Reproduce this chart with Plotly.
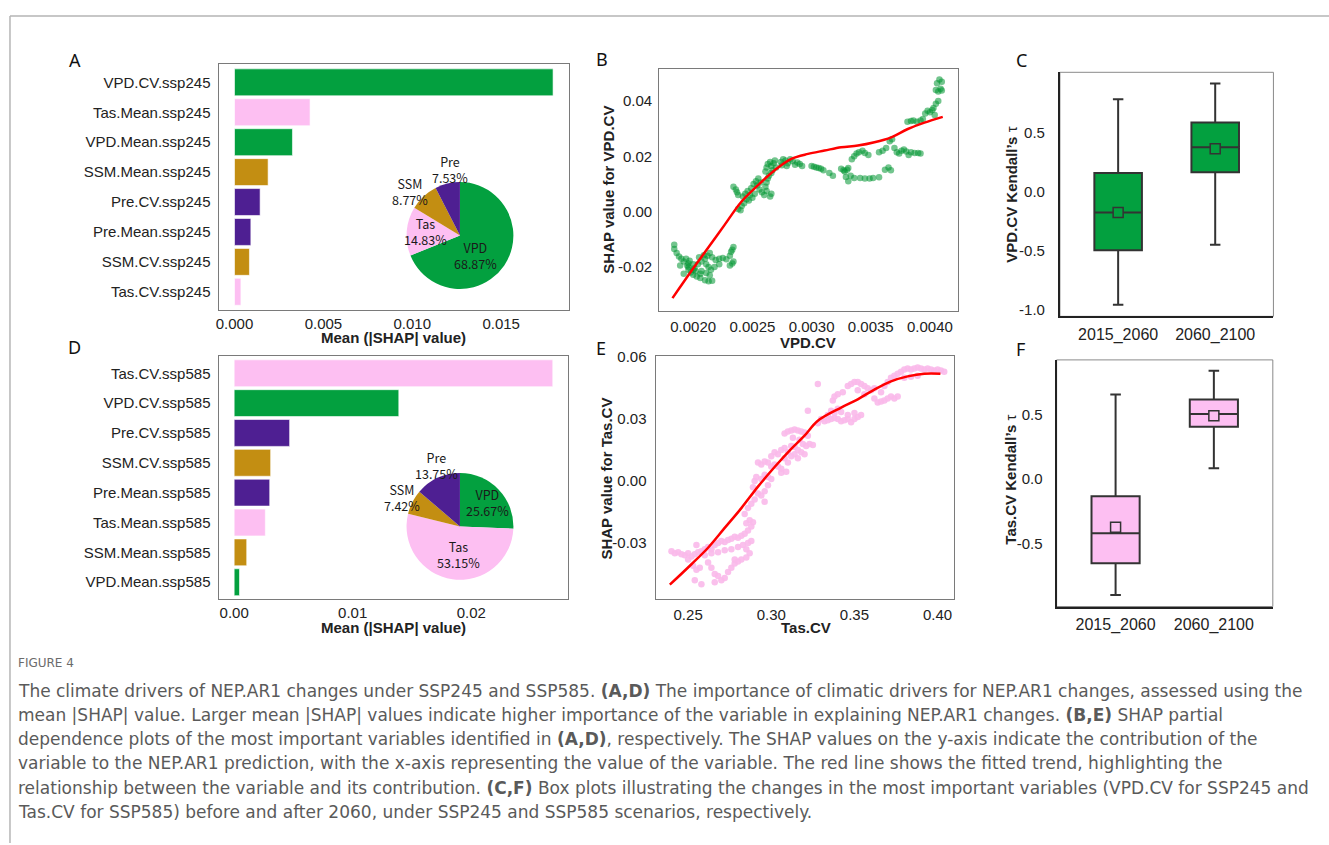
import plotly.graph_objects as go

W, H = 1329, 845
def fx(p): return p / W
def fy(p): return 1 - p / H

# ---------------- DATA ----------------
# Panel A: mean |SHAP| (SSP245)
a_features = ["VPD.CV.ssp245", "Tas.Mean.ssp245", "VPD.Mean.ssp245", "SSM.Mean.ssp245",
              "Pre.CV.ssp245", "Pre.Mean.ssp245", "SSM.CV.ssp245", "Tas.CV.ssp245"]
a_values = [0.01792, 0.00425, 0.00326, 0.00189, 0.00144, 0.00092, 0.00084, 0.00036]
a_groups = ["VPD", "Tas", "VPD", "SSM", "Pre", "Pre", "SSM", "Tas"]
a_pie_labels = ["VPD", "Tas", "SSM", "Pre"]
a_pie_pct = [68.87, 14.83, 8.77, 7.53]

# Panel D: mean |SHAP| (SSP585)
d_features = ["Tas.CV.ssp585", "VPD.CV.ssp585", "Pre.CV.ssp585", "SSM.CV.ssp585",
              "Pre.Mean.ssp585", "Tas.Mean.ssp585", "SSM.Mean.ssp585", "VPD.Mean.ssp585"]
d_values = [0.02688, 0.01389, 0.00468, 0.00308, 0.00300, 0.00263, 0.00106, 0.00045]
d_groups = ["Tas", "VPD", "Pre", "SSM", "Pre", "Tas", "SSM", "VPD"]
d_pie_labels = ["VPD", "Tas", "SSM", "Pre"]
d_pie_pct = [25.67, 53.15, 7.42, 13.75]

# Panel B: SHAP dependence for VPD.CV (x = VPD.CV, y = SHAP)
b_points = [
    (0.00184,-0.0120),(0.00184,-0.0135),(0.00186,-0.0150),(0.00188,-0.0162),(0.00190,-0.0170),
    (0.00192,-0.0180),(0.00195,-0.0195),(0.00196,-0.0210),(0.00198,-0.0220),(0.00200,-0.0228),
    (0.00203,-0.0235),(0.00206,-0.0240),(0.00210,-0.0248),(0.00213,-0.0252),(0.00216,-0.0250),
    (0.00201,-0.0205),(0.00204,-0.0190),(0.00207,-0.0180),(0.00210,-0.0170),(0.00212,-0.0160),
    (0.00214,-0.0150),(0.00216,-0.0165),(0.00219,-0.0175),(0.00222,-0.0170),(0.00225,-0.0168),
    (0.00228,-0.0172),(0.00231,-0.0160),(0.00232,-0.0145),(0.00234,-0.0128),(0.00233,-0.0138),
    (0.00231,-0.0195),(0.00233,-0.0188),(0.00234,-0.0180),(0.00222,-0.0190),(0.00213,-0.0200),
    (0.00207,-0.0215),(0.00200,-0.0190),(0.00197,-0.0178),(0.00194,-0.0170),(0.00189,-0.0195),
    (0.00192,-0.0225),(0.00196,-0.0200),(0.00202,-0.0215),(0.00206,-0.0225),(0.00211,-0.0222),
    (0.00214,-0.0230),(0.00215,-0.0210),(0.00218,-0.0200),(0.00211,-0.0190),(0.00209,-0.0158),
    (0.00205,-0.0165),(0.00200,-0.0210),(0.00196,-0.0188),
    (0.00234,0.0090),(0.00236,0.0080),(0.00237,0.0070),(0.00238,0.0060),(0.00238,0.0010),
    (0.00240,0.0005),(0.00241,0.0020),(0.00243,0.0030),(0.00245,0.0045),(0.00242,0.0055),
    (0.00244,0.0065),(0.00246,0.0075),(0.00248,0.0060),(0.00250,0.0050),(0.00247,0.0040),
    (0.00249,0.0085),(0.00251,0.0100),(0.00253,0.0110),(0.00255,0.0120),(0.00254,0.0095),
    (0.00256,0.0080),(0.00258,0.0070),(0.00260,0.0060),(0.00261,0.0090),(0.00262,0.0105),
    (0.00263,0.0120),(0.00262,0.0075),(0.00265,0.0055),(0.00266,0.0065),(0.00257,0.0105),
    (0.00252,0.0065),
    (0.00261,0.0145),(0.00262,0.0160),(0.00263,0.0172),(0.00265,0.0180),(0.00266,0.0165),
    (0.00267,0.0150),(0.00268,0.0175),(0.00269,0.0185),(0.00270,0.0160),(0.00266,0.0140),
    (0.00264,0.0130),
    (0.00274,0.0180),(0.00276,0.0190),(0.00278,0.0185),(0.00280,0.0175),(0.00282,0.0190),
    (0.00284,0.0182),(0.00286,0.0170),(0.00288,0.0178),(0.00290,0.0172),(0.00292,0.0165),
    (0.00279,0.0165),(0.00275,0.0168),
    (0.00300,0.0165),(0.00302,0.0162),(0.00304,0.0160),(0.00306,0.0158),(0.00308,0.0155),
    (0.00310,0.0150),(0.00315,0.0140),(0.00318,0.0130),
    (0.00325,0.0155),(0.00327,0.0150),(0.00328,0.0145),(0.00330,0.0152),(0.00331,0.0158),
    (0.00329,0.0125),(0.00331,0.0110),(0.00333,0.0130),
    (0.00334,0.0190),(0.00336,0.0200),(0.00338,0.0210),(0.00340,0.0215),(0.00343,0.0220),
    (0.00345,0.0212),(0.00348,0.0205),
    (0.00336,0.0122),(0.00341,0.0122),(0.00345,0.0120),(0.00349,0.0120),(0.00352,0.0122),
    (0.00357,0.0124),
    (0.00357,0.0215),(0.00360,0.0220),(0.00363,0.0230),(0.00366,0.0255),(0.00368,0.0262),
    (0.00362,0.0152),(0.00365,0.0160),(0.00367,0.0150),
    (0.00370,0.0230),(0.00372,0.0215),(0.00374,0.0210),(0.00376,0.0220),(0.00378,0.0225),
    (0.00380,0.0218),(0.00382,0.0205),(0.00384,0.0215),(0.00387,0.0212),(0.00390,0.0212),
    (0.00392,0.0210),
    (0.00381,0.0325),(0.00384,0.0328),(0.00386,0.0330),(0.00389,0.0325),(0.00392,0.0330),
    (0.00394,0.0335),
    (0.00396,0.0355),(0.00398,0.0365),(0.00400,0.0360),(0.00402,0.0368),(0.00404,0.0350),
    (0.00403,0.0375),(0.00405,0.0390),
    (0.00405,0.0440),(0.00407,0.0435),(0.00409,0.0445),(0.00410,0.0438),(0.00406,0.0465),
    (0.00408,0.0478),(0.00410,0.0470),(0.00407,0.0400),
]
b_fit_x = [0.001825, 0.001986, 0.002126, 0.002267, 0.002407, 0.002548, 0.002688, 0.002829,
           0.002970, 0.00311, 0.00325, 0.003391, 0.003531, 0.003672, 0.003813, 0.003953, 0.004108]
b_fit_y = [-0.0313, -0.0214, -0.0131, -0.0047, 0.0036, 0.0096, 0.0150, 0.0191,
           0.0209, 0.0221, 0.0233, 0.0239, 0.0251, 0.0269, 0.0299, 0.0322, 0.0343]

# Panel E: SHAP dependence for Tas.CV
e_points = [
    (0.240,-0.0340),(0.242,-0.0350),(0.244,-0.0345),(0.246,-0.0355),(0.248,-0.0360),(0.250,-0.0350),
    (0.252,-0.0365),(0.254,-0.0355),(0.256,-0.0345),(0.258,-0.0340),(0.260,-0.0330),(0.262,-0.0320),
    (0.264,-0.0330),(0.266,-0.0310),(0.268,-0.0300),(0.270,-0.0290),(0.272,-0.0295),(0.274,-0.0285),
    (0.276,-0.0280),(0.278,-0.0270),(0.280,-0.0275),(0.282,-0.0265),(0.284,-0.0255),(0.286,-0.0240),
    (0.288,-0.0220),(0.289,-0.0200),(0.287,-0.0190),(0.285,-0.0205),(0.260,-0.0360),(0.264,-0.0350),
    (0.268,-0.0345),(0.272,-0.0335),(0.276,-0.0330),(0.280,-0.0320),(0.283,-0.0310),(0.286,-0.0300),
    (0.288,-0.0290),(0.285,-0.0330),(0.287,-0.0350),(0.262,-0.0395),(0.255,-0.0310),
    (0.250,-0.0380),(0.253,-0.0410),(0.255,-0.0430),(0.257,-0.0420),(0.254,-0.0480),(0.264,-0.0420),
    (0.266,-0.0450),(0.268,-0.0460),(0.270,-0.0480),(0.272,-0.0470),(0.274,-0.0440),(0.276,-0.0420),
    (0.278,-0.0400),(0.280,-0.0390),(0.282,-0.0380),(0.285,-0.0370),(0.278,-0.0380),(0.266,-0.0490),
    (0.258,-0.0500),
    (0.284,-0.0160),(0.286,-0.0130),(0.288,-0.0110),(0.290,-0.0090),(0.289,-0.0030),(0.290,0.0000),
    (0.291,0.0020),(0.292,-0.0060),(0.294,-0.0070),(0.296,-0.0050),(0.294,0.0010),(0.296,0.0030),
    (0.298,0.0020),(0.300,0.0010),(0.298,-0.0020),(0.296,-0.0100),(0.300,0.0070),(0.302,0.0080),
    (0.304,0.0070),(0.306,0.0060),(0.298,0.0090),(0.292,0.0090),(0.294,0.0080),(0.296,0.0095),
    (0.300,0.0120),(0.302,0.0140),(0.304,0.0130),(0.306,0.0150),(0.308,0.0160),(0.310,0.0140),
    (0.312,0.0120),(0.314,0.0130),(0.316,0.0110),(0.312,0.0170),(0.314,0.0165),(0.306,0.0040),
    (0.309,0.0045),(0.310,0.0090),(0.308,0.0110),
    (0.308,0.0230),(0.310,0.0240),(0.312,0.0245),(0.314,0.0250),(0.316,0.0245),(0.318,0.0240),
    (0.320,0.0235),(0.322,0.0220),(0.317,0.0200),(0.319,0.0180),(0.321,0.0170),(0.323,0.0180),
    (0.325,0.0175),(0.313,0.0210),(0.316,0.0150),(0.318,0.0140),(0.320,0.0130),
    (0.322,0.0340),(0.328,0.0470),
    (0.328,0.0280),(0.330,0.0300),(0.332,0.0290),(0.334,0.0295),(0.336,0.0300),(0.338,0.0305),
    (0.340,0.0300),(0.342,0.0290),(0.344,0.0295),(0.346,0.0300),(0.348,0.0285),(0.350,0.0300),
    (0.352,0.0310),(0.354,0.0320),(0.334,0.0320),(0.336,0.0340),(0.338,0.0330),(0.342,0.0335),
    (0.346,0.0320),(0.350,0.0330),(0.340,0.0350),(0.337,0.0390),(0.338,0.0410),(0.340,0.0420),
    (0.343,0.0430),(0.346,0.0460),(0.348,0.0470),(0.350,0.0480),(0.352,0.0480),(0.354,0.0470),
    (0.356,0.0460),(0.358,0.0450),(0.360,0.0440),(0.356,0.0420),(0.352,0.0440),
    (0.362,0.0400),(0.364,0.0380),(0.366,0.0385),(0.368,0.0390),(0.370,0.0400),(0.372,0.0410),
    (0.374,0.0400),(0.376,0.0410),(0.368,0.0460),(0.370,0.0480),(0.372,0.0500),(0.374,0.0510),
    (0.376,0.0520),(0.378,0.0530),(0.380,0.0540),(0.382,0.0545),(0.384,0.0540),(0.386,0.0545),
    (0.388,0.0550),(0.390,0.0545),(0.392,0.0540),(0.394,0.0545),(0.396,0.0540),(0.398,0.0535),
    (0.400,0.0540),(0.402,0.0535),(0.404,0.0530),(0.380,0.0500),(0.384,0.0505),(0.388,0.0510),
    (0.366,0.0430),(0.362,0.0450),
]
e_fit_x = [0.239, 0.252, 0.262, 0.272, 0.282, 0.292, 0.302, 0.312, 0.320, 0.328,
           0.342, 0.352, 0.362, 0.372, 0.382, 0.392, 0.4017]
e_fit_y = [-0.0502, -0.0403, -0.0323, -0.0227, -0.0131, -0.0027, 0.0068, 0.0156, 0.0220, 0.0292,
           0.0356, 0.0396, 0.0443, 0.0483, 0.0507, 0.0520, 0.0520]

# Panels C & F: Kendall's tau box statistics
periods = ["2015_2060", "2060_2100"]
c_low = [-0.958, -0.448]
c_q1 = [-0.496, 0.167]
c_median = [-0.174, 0.379]
c_q3 = [0.161, 0.589]
c_high = [0.785, 0.919]
c_mean = [-0.175, 0.366]

f_low = [-0.898, 0.082]
f_q1 = [-0.653, 0.403]
f_median = [-0.421, 0.503]
f_q3 = [-0.135, 0.615]
f_high = [0.653, 0.837]
f_mean = [-0.375, 0.488]

# Tick labels
a_tickvals = [0.0, 0.005, 0.010, 0.015]
a_ticktext = ["0.000", "0.005", "0.010", "0.015"]
d_tickvals = [0.0, 0.01, 0.02]
d_ticktext = ["0.00", "0.01", "0.02"]
b_xtickvals = [0.0020, 0.0025, 0.0030, 0.0035, 0.0040]
b_xticktext = ["0.0020", "0.0025", "0.0030", "0.0035", "0.0040"]
b_ytickvals = [-0.02, 0.0, 0.02, 0.04]
b_yticktext = ["-0.02", "0.00", "0.02", "0.04"]
e_xtickvals = [0.25, 0.30, 0.35, 0.40]
e_xticktext = ["0.25", "0.30", "0.35", "0.40"]
e_ytickvals = [-0.03, 0.0, 0.03, 0.06]
e_yticktext = ["-0.03", "0.00", "0.03", "0.06"]
c_ytickvals = [-1.0, -0.5, 0.0, 0.5]
c_yticktext = ["-1.0", "-0.5", "0.0", "0.5"]
f_ytickvals = [-0.5, 0.0, 0.5]
f_yticktext = ["-0.5", "0.0", "0.5"]

caption_lines = [
    "The climate drivers of NEP.AR1 changes under SSP245 and SSP585. <b>(A,D)</b> The importance of climatic drivers for NEP.AR1 changes, assessed using the",
    "mean |SHAP| value. Larger mean |SHAP| values indicate higher importance of the variable in explaining NEP.AR1 changes. <b>(B,E)</b> SHAP partial",
    "dependence plots of the most important variables identified in <b>(A,D)</b>, respectively. The SHAP values on the y-axis indicate the contribution of the",
    "variable to the NEP.AR1 prediction, with the x-axis representing the value of the variable. The red line shows the fitted trend, highlighting the",
    "relationship between the variable and its contribution. <b>(C,F)</b> Box plots illustrating the changes in the most important variables (VPD.CV for SSP245 and",
    "Tas.CV for SSP585) before and after 2060, under SSP245 and SSP585 scenarios, respectively.",
]

# ---------------- STYLE ----------------
COL = {"VPD": "#03A03F", "Tas": "#FDBFF2", "SSM": "#C38E12", "Pre": "#4E1F92"}
TICKFONT = dict(family="Liberation Sans, Arial, sans-serif", size=15, color="#222222")
FRAME = "#7a7a7a"

fig = go.Figure()

# A bars
fig.add_trace(go.Bar(x=a_values, y=a_features, orientation="h",
                     marker=dict(color=[COL[g] for g in a_groups],
                                 line=dict(color="rgba(255,255,255,0.6)", width=1)),
                     xaxis="x", yaxis="y", showlegend=False))
# D bars
fig.add_trace(go.Bar(x=d_values, y=d_features, orientation="h",
                     marker=dict(color=[COL[g] for g in d_groups],
                                 line=dict(color="rgba(255,255,255,0.6)", width=1)),
                     xaxis="x4", yaxis="y4", showlegend=False))

# Pies
def pie_domain(cx, cy, r):
    return dict(x=[fx(cx - r), fx(cx + r)], y=[fy(cy + r), fy(cy - r)])

fig.add_trace(go.Pie(labels=a_pie_labels, values=a_pie_pct, sort=False, direction="clockwise",
                     rotation=0, textinfo="none", hoverinfo="none",
                     marker=dict(colors=[COL[l] for l in a_pie_labels], line=dict(width=0)),
                     domain=pie_domain(458, 231, 54), showlegend=False))
fig.add_trace(go.Pie(labels=d_pie_labels, values=d_pie_pct, sort=False, direction="clockwise",
                     rotation=0, textinfo="none", hoverinfo="none",
                     marker=dict(colors=[COL[l] for l in d_pie_labels], line=dict(width=0)),
                     domain=pie_domain(458, 525, 54), showlegend=False))

# B scatter + fit
fig.add_trace(go.Scatter(x=[p[0] for p in b_points], y=[p[1] for p in b_points], mode="markers",
                         marker=dict(size=6.5, color="rgba(0,150,50,0.55)"),
                         xaxis="x2", yaxis="y2", showlegend=False))
fig.add_trace(go.Scatter(x=b_fit_x, y=b_fit_y, mode="lines", line=dict(color="#FF0000", width=2.5, shape="spline"),
                         xaxis="x2", yaxis="y2", showlegend=False))
# E scatter + fit
fig.add_trace(go.Scatter(x=[p[0] for p in e_points], y=[p[1] for p in e_points], mode="markers",
                         marker=dict(size=6.5, color="rgba(250,185,234,0.9)"),
                         xaxis="x5", yaxis="y5", showlegend=False))
fig.add_trace(go.Scatter(x=e_fit_x, y=e_fit_y, mode="lines", line=dict(color="#FF0000", width=2.5, shape="spline"),
                         xaxis="x5", yaxis="y5", showlegend=False))

# C & F boxes
for (low, q1, med, q3, high, mean, col, xa, ya) in [
        (c_low, c_q1, c_median, c_q3, c_high, c_mean, COL["VPD"], "x3", "y3"),
        (f_low, f_q1, f_median, f_q3, f_high, f_mean, COL["Tas"], "x6", "y6")]:
    fig.add_trace(go.Box(x=periods, q1=q1, median=med, q3=q3, lowerfence=low, upperfence=high,
                         width=0.49, whiskerwidth=0.22, fillcolor=col,
                         line=dict(color="#333333", width=2), boxpoints=False,
                         xaxis=xa, yaxis=ya, showlegend=False, hoverinfo="skip"))
    fig.add_trace(go.Scatter(x=periods, y=mean, mode="markers",
                             marker=dict(symbol="square", size=10, color=col,
                                         line=dict(color="#333333", width=1.5)),
                             xaxis=xa, yaxis=ya, showlegend=False))

# ---------------- AXES ----------------
def ax(domain, **kw):
    d = dict(domain=domain, showgrid=False, zeroline=False, showline=True, mirror=True,
             linecolor=FRAME, linewidth=1, ticks="", tickfont=TICKFONT, fixedrange=True)
    d.update(kw)
    return d

layout_axes = dict(
    xaxis=ax([fx(216), fx(567)], anchor="y", range=[-0.0009, 0.0188],
             tickvals=a_tickvals, ticktext=a_ticktext, ticklabelstandoff=0),
    yaxis=ax([fy(306), fy(58)], anchor="x", type="category", range=[7.6, -0.6],
             ticklabelstandoff=4),
    xaxis2=ax([fx(657.7), fx(956.7)], anchor="y2", range=[0.001713, 0.004233],
              tickvals=b_xtickvals, ticktext=b_xticktext, ticklabelstandoff=2),
    yaxis2=ax([fy(307.7), fy(62.7)], anchor="x2", range=[-0.0361, 0.0516],
              tickvals=b_ytickvals, ticktext=b_yticktext, ticklabelstandoff=3),
    xaxis3=ax([fx(1059.3), fx(1273.3)], anchor="y3", type="category", range=[-0.6, 1.6],
              tickfont=dict(TICKFONT, size=16), ticklabelstandoff=2,
              mirror=False, linecolor="#222222", linewidth=2),
    yaxis3=ax([fy(312.7), fy(66)], anchor="x3", range=[-1.056, 1.014],
              tickvals=c_ytickvals, ticktext=c_yticktext, tickfont=dict(TICKFONT, size=15),
              ticklabelstandoff=10, mirror=False, linecolor="#222222", linewidth=2),
    xaxis4=ax([fx(216), fx(566.7)], anchor="y4", range=[-0.00132, 0.0282],
              tickvals=d_tickvals, ticktext=d_ticktext, ticklabelstandoff=0),
    yaxis4=ax([fy(598.3), fy(352.7)], anchor="x4", type="category", range=[7.56, -0.58],
              ticklabelstandoff=4),
    xaxis5=ax([fx(654), fx(952.7)], anchor="y5", range=[0.2304, 0.4096],
              tickvals=e_xtickvals, ticktext=e_xticktext, ticklabelstandoff=2),
    yaxis5=ax([fy(598.3), fy(352.7)], anchor="x5", range=[-0.0571, 0.0606],
              tickvals=e_ytickvals, ticktext=e_yticktext, ticklabelstandoff=5),
    xaxis6=ax([fx(1056), fx(1272.7)], anchor="y6", type="category", range=[-0.6, 1.6],
              tickfont=dict(TICKFONT, size=16), ticklabelstandoff=2,
              mirror=False, linecolor="#222222", linewidth=2),
    yaxis6=ax([fy(606), fy(356.7)], anchor="x6", range=[-0.988, 0.921],
              tickvals=f_ytickvals, ticktext=f_yticktext, tickfont=dict(TICKFONT, size=15),
              ticklabelstandoff=9, mirror=False, linecolor="#222222", linewidth=2),
)

# ---------------- ANNOTATIONS ----------------
ann = []
def txt(x, y, t, size=15, bold=False, family="Liberation Sans, Arial, sans-serif",
        color="#222222", angle=0, xanchor="center"):
    ann.append(dict(x=fx(x), y=fy(y), xref="paper", yref="paper", text=(f"<b>{t}</b>" if bold else t),
                    showarrow=False, textangle=angle, xanchor=xanchor, yanchor="middle",
                    font=dict(family=family, size=size, color=color)))

# panel letters
for (lx, ly, L) in [(72, 54, "A"), (600, 53, "B"), (1021, 54, "C"),
                    (72, 344, "D"), (599, 345, "E"), (1020, 346, "F")]:
    txt(lx, ly, L, size=18, family="Noto Sans, sans-serif", color="#111111")

# axis titles
txt(391.5, 334, "Mean (|SHAP| value)", bold=True)
txt(391.5, 627, "Mean (|SHAP| value)", bold=True)
txt(807, 339, "VPD.CV", bold=True)
txt(805, 627, "Tas.CV", bold=True)
txt(606, 185, "SHAP value for VPD.CV", bold=True, angle=-90)
txt(605, 477, "SHAP value for Tas.CV", bold=True, angle=-90)
txt(1011, 190, "<b>VPD.CV Kendall\u2019s</b> \u03c4", angle=-90)
txt(1010, 478, "<b>Tas.CV Kendall\u2019s</b> \u03c4", angle=-90)

# pie labels
PIEFONT = "Noto Sans CJK SC, Noto Sans, sans-serif"
a_lab_pos = {"Pre": (448, 164), "SSM": (408, 186), "Tas": (423, 227), "VPD": (474, 251)}
d_lab_pos = {"Pre": (434, 463), "SSM": (400, 496), "Tas": (457, 553), "VPD": (486, 501)}
for labels, pcts, pos in [(a_pie_labels, a_pie_pct, a_lab_pos), (d_pie_labels, d_pie_pct, d_lab_pos)]:
    for lab, p in zip(labels, pcts):
        x, y = pos[lab]
        txt(x, y, f"{lab}<br>{p:.2f}%", size=12.5, family=PIEFONT, color="#1a1a1a")

# caption
CAPFONT = "DejaVu Sans, sans-serif"
txt(13, 663, "FIGURE 4", size=12, family=CAPFONT, color="#6b6b6b", xanchor="left")
for i, line in enumerate(caption_lines):
    txt(13, 691 + i * 24.5, line, size=17, family=CAPFONT, color="#5a5a5a", xanchor="left")

# ---------------- SHAPES ----------------
shapes = [
    dict(type="line", xref="paper", yref="paper", x0=fx(7), x1=1, y0=fy(9), y1=fy(9),
         line=dict(color="#b5b5b5", width=1.5)),
    dict(type="line", xref="paper", yref="paper", x0=fx(7), x1=fx(7), y0=fy(9), y1=0,
         line=dict(color="#b5b5b5", width=1.5)),
]
for xa, ya in [("x3", "y3"), ("x6", "y6")]:
    shapes.append(dict(type="rect", xref=f"{xa} domain", yref=f"{ya} domain", x0=0, x1=1, y0=0, y1=1,
                       line=dict(color="#8a8a8a", width=1), layer="below"))

fig.update_layout(width=W, height=H, margin=dict(l=0, r=0, t=0, b=0),
                  paper_bgcolor="white", plot_bgcolor="white", bargap=0.1,
                  annotations=ann, shapes=shapes, showlegend=False, **layout_axes)

fig.write_html("out.html")
